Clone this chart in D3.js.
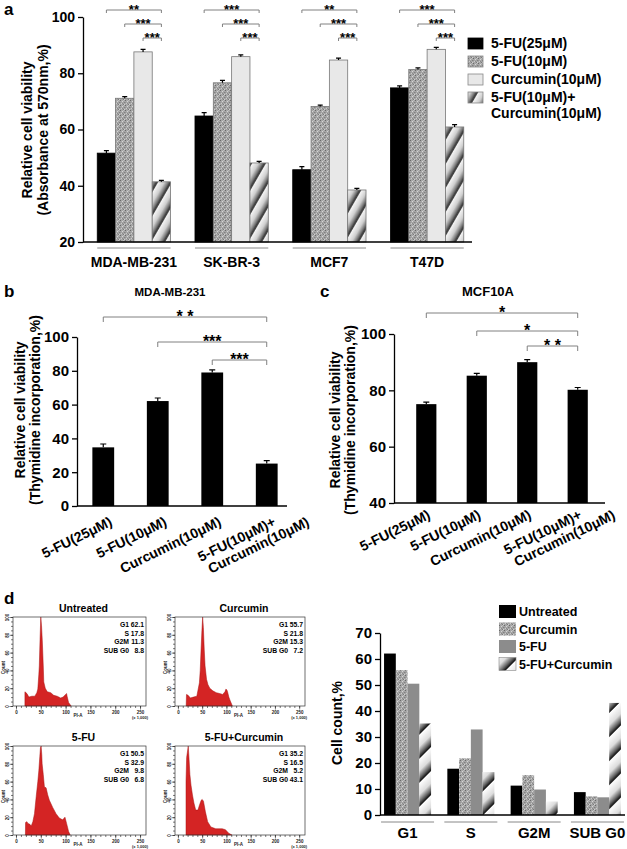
<!DOCTYPE html>
<html>
<head>
<meta charset="utf-8">
<script src="https://cdn.jsdelivr.net/npm/d3@7"></script>
<style>
  body { margin: 0; background: #fff; }
  svg { display: block; font-family: "Liberation Sans", Arial, Helvetica, sans-serif; font-weight: bold; }
</style>
</head>
<body>
<div id="app"></div>
<script>
// ---------- panel a data ----------
const cellLinesA = ["MDA-MB-231", "SK-BR-3", "MCF7", "T47D"];
const treatmentsA = ["5-FU(25μM)", "5-FU(10μM)", "Curcumin(10μM)", ["5-FU(10μM)+", "Curcumin(10μM)"]];
const viabilityA = [
  [51.6, 71.1, 87.6, 41.4],
  [64.8, 76.6, 85.9, 48.1],
  [45.7, 68.2, 84.7, 38.5],
  [74.8, 81.3, 88.5, 60.9]
];
const errorA = [
  [0.9, 0.6, 0.9, 0.5],
  [1.2, 0.9, 0.6, 0.6],
  [1.1, 0.5, 0.7, 0.6],
  [0.7, 0.6, 0.7, 0.8]
];
const starsA = [["**", "***", "***"], ["***", "***", "***"], ["**", "***", "***"], ["***", "***", "***"]];
const ticksA = [20, 40, 60, 80, 100];

// ---------- panels b / c data ----------
const treatmentsBC = [["5-FU(25μM)"], ["5-FU(10μM)"], ["Curcumin(10μM)"], ["5-FU(10μM)+", "Curcumin(10μM)"]];
const viabilityB = [34.7, 62.1, 79.0, 25.1];
const errorB = [2.0, 1.8, 1.6, 1.7];
const starsB = ["* *", "***", "***"];
const ticksB = [0, 20, 40, 60, 80, 100];
const viabilityC = [75.1, 85.2, 90.0, 80.2];
const errorC = [0.7, 0.8, 0.9, 0.8];
const starsC = ["*", "*", "* *"];
const ticksC = [40, 60, 80, 100];

// ---------- panel d data ----------
const phasesD = ["G1", "S", "G2M", "SUB G0"];
const groupsD = ["Untreated", "Curcumin", "5-FU", "5-FU+Curcumin"];
const cellCountD = [
  [62.1, 17.8, 11.3, 8.8],
  [55.7, 21.8, 15.3, 7.2],
  [50.5, 32.9, 9.8, 6.8],
  [35.2, 16.5, 5.2, 43.1]
];
const ticksD = [0, 10, 20, 30, 40, 50, 60, 70];
// flow histograms, [PI-A channel (x1000), count as % of peak]
const histUntreated = [[18,0],[18,16],[22,14],[26,10],[32,11],[38,11],[42,15],[44,19],[46,35],[47,45],[48.5,75],[50,100],[51.5,90],[53,74],[55,45],[56,27],[59,20],[63,16],[70,15],[76,12],[83,11],[90,9],[95,10],[100,13],[102,14],[103,11],[106,4],[111,0]];
const histCurcumin = [[17,0],[17.7,13],[21,12],[25.7,9],[32,10],[39,11],[44.3,26],[46,40],[47.7,63],[49.5,85],[51,100],[52.5,88],[54.3,63],[56,45],[59,30],[62,24],[65.7,20],[72,17],[79,15],[86,14],[92.3,13],[97,16],[99,19],[101,18],[102.3,16],[105,10],[107,7],[112.3,0]];
const hist5FU = [[19,0],[19.3,14],[22,15],[24,13],[28,12],[30.7,10],[34,15],[37.3,24],[40.7,43],[44,60],[46,72],[48,88],[49.3,98],[50.7,100],[52,90],[52.7,80],[55,68],[57.3,54],[60.7,53],[64,45],[67.3,39],[74,31],[80.7,24],[87.3,19],[94,17],[98.7,20],[102,13],[106,4],[109.3,0]];
const hist5FUCur = [[16.7,0],[16.7,60],[18,87],[21.3,100],[23,85],[24.7,68],[27,56],[30,45],[33,36],[36.7,28],[41.3,28],[44.7,34],[48,39],[50,40],[52.7,38],[56.7,26],[61.3,15],[68,9],[78,7],[91.3,7],[98,6],[104.7,2],[111.3,0]];
const histData = [histUntreated, histCurcumin, hist5FU, hist5FUCur];
const histTicks = [0, 50, 100, 150, 200, 250];

const svg = d3.select("#app").append("svg").attr("width", 627).attr("height", 849);
const defs = svg.append("defs");

// speckled grey texture
const speck = defs.append("pattern").attr("id", "speckle")
  .attr("patternUnits", "userSpaceOnUse").attr("width", 5).attr("height", 5);
speck.append("rect").attr("width", 5).attr("height", 5).attr("fill", "#a6a6a6");
[[0,0,"#6a6a6a"],[2,1,"#d6d6d6"],[4,2,"#808080"],[1,3,"#cacaca"],[3,4,"#7a7a7a"],[3,0,"#bdbdbd"],[0,2,"#959595"],[4,4,"#d0d0d0"],[2,3,"#8a8a8a"]]
  .forEach(([x, y, c]) => speck.append("rect").attr("x", x).attr("y", y).attr("width", 1).attr("height", 1).attr("fill", c));

// diagonal gradient stripes
function hatch(id, size, angle, stops) {
  const g = defs.append("linearGradient").attr("id", id + "-g").attr("x1", 0).attr("x2", 1).attr("y1", 0).attr("y2", 0);
  stops.forEach(([o, c]) => g.append("stop").attr("offset", o).attr("stop-color", c));
  const p = defs.append("pattern").attr("id", id).attr("patternUnits", "userSpaceOnUse")
    .attr("width", size).attr("height", size).attr("patternTransform", `rotate(${angle})`);
  p.append("rect").attr("width", size).attr("height", size).attr("fill", `url(#${id}-g)`);
}
hatch("hatchA", 12, 30, [[0, "#f6f6f6"], [0.45, "#cfcfcf"], [0.75, "#777"], [0.95, "#222"], [1, "#f6f6f6"]]);
hatch("hatchD", 17, 45, [[0, "#ffffff"], [0.5, "#dcdcdc"], [0.8, "#666"], [0.97, "#111"], [1, "#ffffff"]]);

function bracket(g, x1, x2, y, tick, label, fs) {
  g.append("path").attr("d", `M${x1},${y + tick}V${y}H${x2}V${y + tick}`)
    .attr("fill", "none").attr("stroke", "#808080").attr("stroke-width", 1);
  g.append("text").attr("x", (x1 + x2) / 2).attr("y", y + fs * 0.3)
    .attr("text-anchor", "middle").attr("font-size", fs).text(label);
}

function errBar(g, x, yTop, yErr, cap) {
  g.append("path").attr("d", `M${x},${yTop}V${yErr}M${x - cap / 2},${yErr}H${x + cap / 2}`)
    .attr("stroke", "#000").attr("stroke-width", 1.2).attr("fill", "none");
}

function styleAxis(g, fs) {
  g.select(".domain").attr("stroke", "#000").attr("stroke-width", 1.3);
  g.selectAll(".tick line").attr("stroke", "#000").attr("stroke-width", 1.3);
  g.selectAll(".tick text").attr("font-size", fs).attr("font-family", null).attr("font-weight", "bold").attr("fill", "#000");
}

function yTitle(g, x, y, lines, fs, gap) {
  lines.forEach((t, i) => g.append("text")
    .attr("transform", `translate(${x + i * gap},${y}) rotate(-90)`)
    .attr("text-anchor", "middle").attr("font-size", fs).text(t));
}

function panelLetter(t, x, y) {
  svg.append("text").attr("x", x).attr("y", y).attr("font-size", 17).text(t);
}

// ================= panel a =================
{
  const g = svg.append("g");
  const left = 83, right = 472;
  const x = d3.scaleBand().domain(cellLinesA).range([86, 475]).paddingInner(0.25).paddingOuter(0.115);
  const xi = d3.scaleBand().domain(d3.range(treatmentsA.length)).range([0, x.bandwidth()]);
  const y = d3.scaleLinear().domain([20, 100]).range([242, 17]);
  const fills = ["#000", "url(#speckle)", "#e8e8e8", "url(#hatchA)"];

  cellLinesA.forEach((line, i) => {
    const gx = x(line);
    viabilityA[i].forEach((v, j) => {
      g.append("rect").attr("x", gx + xi(j)).attr("y", y(v))
        .attr("width", xi.bandwidth()).attr("height", y(20) - y(v))
        .attr("fill", fills[j]).attr("stroke", j === 0 ? "#000" : "#777").attr("stroke-width", 0.8);
      errBar(g, gx + xi(j) + xi.bandwidth() / 2, y(v), y(v + errorA[i][j]), 5);
    });
    const c3 = gx + xi(3) + xi.bandwidth() / 2;
    [10, 24, 38].forEach((by, k) => bracket(g, gx + xi(k) + xi.bandwidth() / 2, c3, by, 3, starsA[i][k], 13));
    g.append("line").attr("x1", gx).attr("x2", gx + x.bandwidth()).attr("y1", 248).attr("y2", 248)
      .attr("stroke", "#888").attr("stroke-width", 1);
    g.append("text").attr("x", gx + x.bandwidth() / 2).attr("y", 267).attr("text-anchor", "middle")
      .attr("font-size", 14).text(line);
  });

  const ya = g.append("g").attr("transform", `translate(${left},0)`)
    .call(d3.axisLeft(y).tickValues(ticksA).tickSize(5).tickSizeOuter(0).tickPadding(3));
  styleAxis(ya, 14);
  g.append("line").attr("x1", left).attr("x2", right).attr("y1", y(20)).attr("y2", y(20))
    .attr("stroke", "#000").attr("stroke-width", 1.3);
  yTitle(g, 32, 130, ["Relative cell viability", "(Absorbance at 570nm,%)"], 14, 16);

  // legend
  const lg = g.append("g").attr("transform", "translate(468,38)");
  treatmentsA.forEach((t, j) => {
    lg.append("rect").attr("x", 0).attr("y", j * 18).attr("width", 15).attr("height", 11)
      .attr("fill", fills[j]).attr("stroke", j === 0 ? "#000" : "#888").attr("stroke-width", 0.8);
    [].concat(t).forEach((s, k) => lg.append("text").attr("x", 23).attr("y", j * 18 + 10 + k * 16)
      .attr("font-size", 14).text(s));
  });
  panelLetter("a", 4, 15);
}

// ================= panels b and c =================
function simplePanel(o) {
  const g = svg.append("g");
  const x = d3.scaleBand().domain(d3.range(o.values.length)).range(o.band).paddingInner(0.6).paddingOuter(o.outer);
  const y = d3.scaleLinear().domain(o.domain).range(o.yRange);
  const cx = i => x(i) + x.bandwidth() / 2;
  o.values.forEach((v, i) => {
    g.append("rect").attr("x", x(i)).attr("y", y(v)).attr("width", x.bandwidth())
      .attr("height", y(o.domain[0]) - y(v)).attr("fill", "#000");
    errBar(g, cx(i), y(v), y(v + o.errors[i]), 6);
  });
  o.bracketY.forEach((by, k) => bracket(g, cx(k), cx(3), by, 5, o.stars[k], 16));
  const ya = g.append("g").attr("transform", `translate(${o.left},0)`)
    .call(d3.axisLeft(y).tickValues(o.ticks).tickSize(5).tickSizeOuter(0).tickPadding(3));
  styleAxis(ya, 15);
  g.append("line").attr("x1", o.left).attr("x2", o.right).attr("y1", y(o.domain[0])).attr("y2", y(o.domain[0]))
    .attr("stroke", "#000").attr("stroke-width", 1.3);
  treatmentsBC.forEach((lines, i) => {
    const t = g.append("g").attr("transform",
      `translate(${cx(i) + o.labelDx},${y(o.domain[0]) + o.labelDy}) rotate(-26)`);
    const first = t.append("text").attr("text-anchor", "end").attr("font-size", 14).text(lines[0]);
    if (lines.length > 1) {
      const L = first.node().getComputedTextLength();
      t.append("text").attr("x", -L + 4).attr("y", 15).attr("font-size", 14).text(lines[1]);
    }
  });
  g.append("text").attr("x", o.titleX).attr("y", 296).attr("text-anchor", "middle")
    .attr("font-size", o.titleSize).text(o.title);
  yTitle(g, o.ytX, o.ytY, ["Relative cell viability", "(Thymidine incorporation,%)"], 14, 15);
}

simplePanel({
  values: viabilityB, errors: errorB, stars: starsB, ticks: ticksB,
  domain: [0, 100], yRange: [506, 337], band: [80, 290], outer: 0.227,
  left: 77, right: 287, bracketY: [317, 342, 360], labelDx: 10, labelDy: 19,
  title: "MDA-MB-231", titleX: 170, titleSize: 11.5, ytX: 25, ytY: 410
});
panelLetter("b", 4, 297);

simplePanel({
  values: viabilityC, errors: errorC, stars: starsC, ticks: ticksC,
  domain: [40, 100], yRange: [503, 334], band: [394, 610], outer: 0.44,
  left: 394, right: 605, bracketY: [313, 331, 346], labelDx: 5, labelDy: 15,
  title: "MCF10A", titleX: 488, titleSize: 13, ytX: 340, ytY: 420
});
panelLetter("c", 320, 297);

// ================= panel d: histograms =================
const histFrames = [[13, 617, 133], [175, 617, 130], [13, 746, 133], [175, 746, 130]];
const histH = 89;
groupsD.forEach((name, gi) => {
  const [x0, y0, w] = histFrames[gi];
  const g = svg.append("g");
  const hx = d3.scaleLinear().domain([-6, 262]).range([x0, x0 + w]);
  const hy = d3.scaleLinear().domain([0, 100]).range([y0 + histH, y0]);
  const area = d3.area().x(d => hx(d[0])).y0(hy(0)).y1(d => hy(d[1]));
  g.append("path").attr("d", area(histData[gi])).attr("fill", "#d42424").attr("stroke", "#a81010").attr("stroke-width", 0.5);
  g.append("rect").attr("x", x0).attr("y", y0).attr("width", w).attr("height", histH)
    .attr("fill", "none").attr("stroke", "#333").attr("stroke-width", 0.7);

  const minor = g.append("g").attr("transform", `translate(0,${y0 + histH})`)
    .call(d3.axisBottom(hx).tickValues(d3.range(0, 251, 10)).tickSize(2).tickFormat(""));
  const major = g.append("g").attr("transform", `translate(0,${y0 + histH})`)
    .call(d3.axisBottom(hx).tickValues(histTicks).tickSize(3.5).tickPadding(1));
  const yMinor = g.append("g").attr("transform", `translate(${x0},0)`)
    .call(d3.axisLeft(hy).tickValues(d3.range(0, 101, 5)).tickSize(2).tickFormat(""));
  const yMajor = g.append("g").attr("transform", `translate(${x0},0)`)
    .call(d3.axisLeft(hy).tickValues([0, 20, 40, 60, 80, 100]).tickSize(3.5).tickPadding(1));
  [minor, major, yMinor, yMajor].forEach(a => {
    a.select(".domain").remove();
    a.selectAll(".tick line").attr("stroke", "#222").attr("stroke-width", 0.6);
    a.selectAll(".tick text").attr("font-size", 4.5).attr("font-family", null).attr("fill", "#222");
  });
  yMajor.selectAll(".tick text").attr("transform", "rotate(-90)").attr("text-anchor", "middle").attr("dx", 0).attr("dy", 0).attr("x", 0).attr("y", -4.5);
  g.append("text").attr("x", hx(125)).attr("y", y0 + histH + 11).attr("text-anchor", "middle")
    .attr("font-size", 4.5).attr("fill", "#222").text("PI-A");
  g.append("text").attr("x", hx(250)).attr("y", y0 + histH + 13).attr("text-anchor", "middle")
    .attr("font-size", 4).attr("fill", "#222").text("(x 1,000)");
  g.append("text").attr("transform", `translate(${x0 - 8.5},${y0 + histH / 2 + 6}) rotate(-90)`)
    .attr("text-anchor", "middle").attr("font-size", 4.5).attr("fill", "#222").text("Count");
  g.append("text").attr("x", x0 + w / 2 + 4).attr("y", y0 - 5).attr("text-anchor", "middle")
    .attr("font-size", 10.5).text(name);

  phasesD.forEach((p, k) => {
    const by = y0 + 10 + k * 8.6;
    g.append("text").attr("x", x0 + w - 17).attr("y", by).attr("text-anchor", "end").attr("font-size", 6.8).text(p);
    g.append("text").attr("x", x0 + w - 2).attr("y", by).attr("text-anchor", "end").attr("font-size", 6.8)
      .text(d3.format(".1f")(cellCountD[gi][k]));
  });
});
panelLetter("d", 4, 604);

// ================= panel d: bar chart =================
{
  const g = svg.append("g");
  const left = 380, right = 625;
  const x = d3.scaleBand().domain(phasesD).range([380, 625]).paddingInner(0.257).paddingOuter(0.064);
  const xi = d3.scaleBand().domain(d3.range(groupsD.length)).range([0, x.bandwidth()]);
  const y = d3.scaleLinear().domain([0, 70]).range([815, 633]);
  const fills = ["#000", "url(#speckle)", "#8c8c8c", "url(#hatchD)"];

  phasesD.forEach((p, pi) => {
    const gx = x(p);
    groupsD.forEach((grp, gi) => {
      const v = cellCountD[gi][pi];
      g.append("rect").attr("x", gx + xi(gi)).attr("y", y(v)).attr("width", xi.bandwidth())
        .attr("height", y(0) - y(v)).attr("fill", fills[gi]);
    });
    g.append("line").attr("x1", gx - 3).attr("x2", gx + x.bandwidth() + 3).attr("y1", 822).attr("y2", 822)
      .attr("stroke", "#888").attr("stroke-width", 1);
    g.append("text").attr("x", gx + x.bandwidth() / 2).attr("y", 838).attr("text-anchor", "middle")
      .attr("font-size", 15).text(p);
  });
  const ya = g.append("g").attr("transform", `translate(${left},0)`)
    .call(d3.axisLeft(y).tickValues(ticksD).tickSize(5).tickSizeOuter(0).tickPadding(3));
  styleAxis(ya, 15);
  g.append("line").attr("x1", left).attr("x2", right).attr("y1", y(0)).attr("y2", y(0))
    .attr("stroke", "#000").attr("stroke-width", 1.3);
  yTitle(g, 342, 723, ["Cell count,%"], 14, 0);

  const lg = g.append("g").attr("transform", "translate(499,605)");
  groupsD.forEach((t, j) => {
    lg.append("rect").attr("x", 0).attr("y", j * 17.5).attr("width", 17).attr("height", 13)
      .attr("fill", fills[j]).attr("stroke", j === 3 ? "#888" : "none").attr("stroke-width", 0.6);
    lg.append("text").attr("x", 20).attr("y", j * 17.5 + 11).attr("font-size", 12.5).text(t);
  });
}
</script>
</body>
</html>
